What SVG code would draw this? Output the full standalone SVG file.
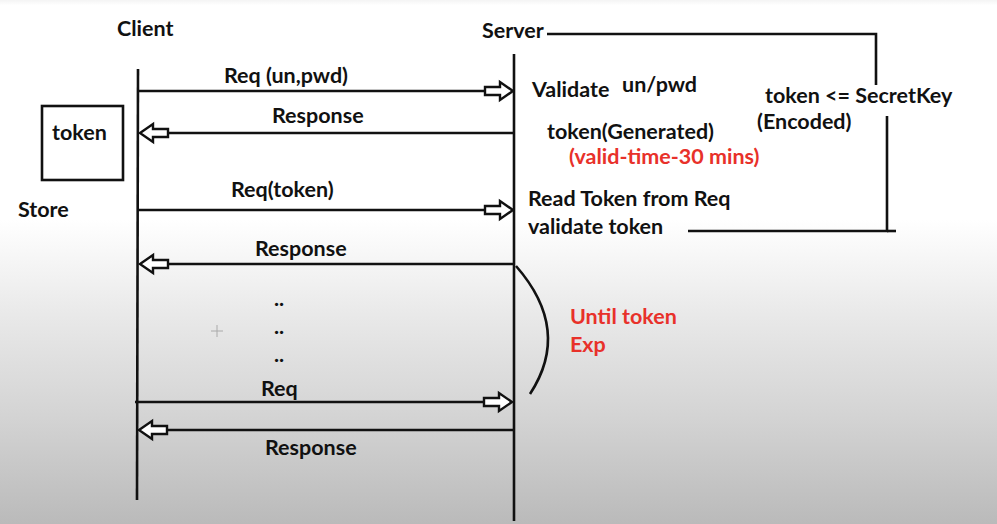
<svg xmlns="http://www.w3.org/2000/svg" width="997" height="524" viewBox="0 0 997 524">
<defs>
<linearGradient id="bg" x1="0" y1="0" x2="0" y2="1">
<stop offset="0" stop-color="#f4f4f4"/>
<stop offset="0.01" stop-color="#ffffff"/>
<stop offset="0.42" stop-color="#ffffff"/>
<stop offset="0.6" stop-color="#e9e9e9"/>
<stop offset="0.8" stop-color="#d3d3d3"/>
<stop offset="1" stop-color="#bababa"/>
</linearGradient>
<path id="arrR" d="M-28,-4 H-13 V-9 L0,0 L-13,9 V4 H-28 Z"/>
<path id="arrL" d="M28,-4 H13 V-9 L0,0 L13,9 V4 H28 Z"/>
</defs>
<style>
text{font-family:Lato,"Open Sans","Liberation Sans",sans-serif;font-weight:bold;font-size:21.5px;fill:#111}
.red{fill:#e8312a}
.ln{stroke:#111;stroke-width:2.6;fill:none}
.hd{fill:#fff;stroke:#111;stroke-width:2.4;stroke-linejoin:miter}
</style>
<rect width="997" height="524" fill="url(#bg)"/>

<g id="client">
<text x="117" y="36">Client</text>
<line class="ln" x1="138" y1="69" x2="137" y2="500"/>
</g>
<g id="server">
<text x="482" y="38">Server</text>
<line class="ln" x1="514" y1="54" x2="514" y2="521"/>
</g>
<g id="token-store">
<rect x="42" y="106" width="81" height="74" fill="none" stroke="#111" stroke-width="2.6"/>
<text x="52" y="140">token</text>
<text x="18" y="217">Store</text>
</g>
<g id="server-notes">
<text x="532" y="97">Validate</text>
<text x="622" y="92">un/pwd</text>
<text x="547" y="139">token(Generated)</text>
<text class="red" x="569" y="164">(valid-time-30 mins)</text>
<text x="528" y="206">Read Token from Req</text>
<text x="528" y="234">validate token</text>
</g>
<g id="secret-key">
<text x="765" y="103">token &lt;= SecretKey</text>
<text x="757" y="129">(Encoded)</text>
</g>
<g id="until-exp">
<text class="red" x="570" y="324">Until token</text>
<text class="red" x="570" y="352">Exp</text>
</g>
<g id="dots">
<text x="274" y="306">..</text>
<text x="274" y="334">..</text>
<text x="274" y="362">..</text>
</g>
<g id="cursor" stroke="#aaa" stroke-width="1">
<line x1="211" y1="331" x2="223" y2="331"/>
<line x1="217" y1="325" x2="217" y2="337"/>
</g>

<g id="connectors">
<polyline class="ln" points="547,34 876,34 876,85"/>
<polyline class="ln" points="688,231 887,231 887,116"/>
<line class="ln" x1="887" y1="231" x2="896" y2="231"/>
<path class="ln" d="M516,266 Q572,330 530,394"/>

<line class="ln" x1="138" y1="91" x2="486" y2="91"/>
<use href="#arrR" class="hd" x="513" y="91"/>
<text x="224" y="83">Req (un,pwd)</text>

<line class="ln" x1="167" y1="133" x2="514" y2="133"/>
<use href="#arrL" class="hd" x="140" y="133"/>
<text x="272" y="123">Response</text>

<line class="ln" x1="138" y1="210" x2="486" y2="210"/>
<use href="#arrR" class="hd" x="513" y="210"/>
<text x="231" y="197">Req(token)</text>

<line class="ln" x1="167" y1="264" x2="514" y2="264"/>
<use href="#arrL" class="hd" x="140" y="264"/>
<text x="255" y="256">Response</text>

<line class="ln" x1="135" y1="402" x2="485" y2="402"/>
<use href="#arrR" class="hd" x="512" y="402"/>
<text x="261" y="396">Req</text>

<line class="ln" x1="168" y1="430" x2="514" y2="430"/>
<use href="#arrL" class="hd" x="139" y="430"/>
<text x="265" y="455">Response</text>
</g>
</svg>
